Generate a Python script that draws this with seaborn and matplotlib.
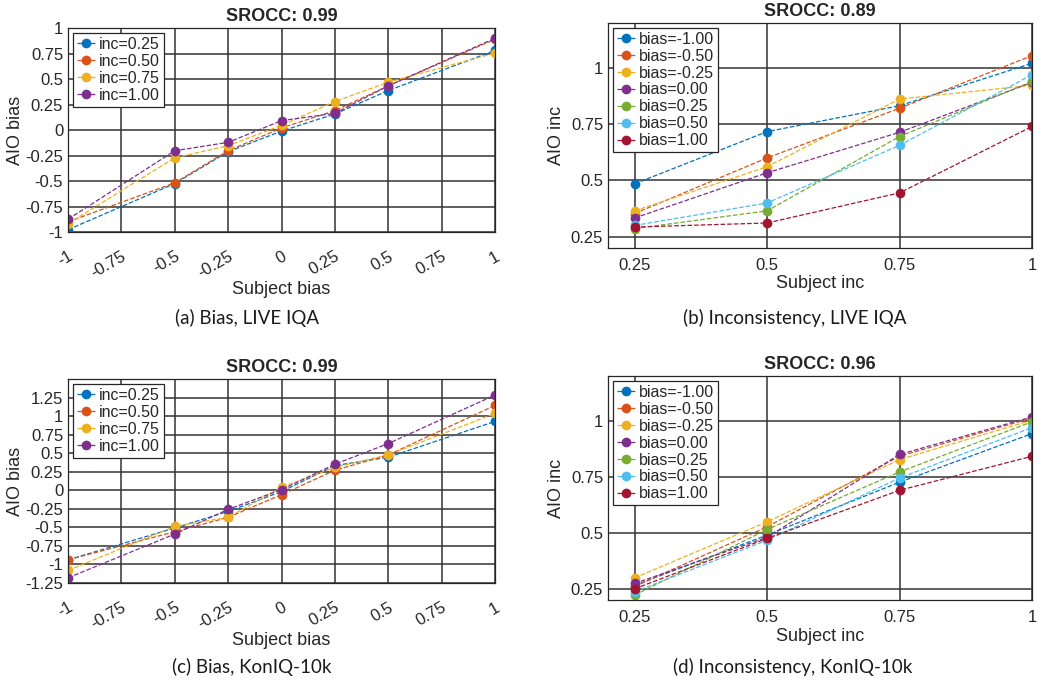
import numpy as np
import pandas as pd
import matplotlib
matplotlib.use("Agg")
import matplotlib.pyplot as plt
import seaborn as sns

sns.set_style("white")
plt.rcParams['font.family'] = ['Liberation Sans', 'DejaVu Sans']

# MATLAB default line colours
colors = ['#0072BD', '#D95319', '#EDB120', '#7E2F8E', '#77AC30', '#4DBEEE', '#A2142F']

# ---- (a) Bias, LIVE IQA ----
bias_x = [-1, -0.5, -0.25, 0, 0.25, 0.5, 1]
inc_labels = ['inc=0.25', 'inc=0.50', 'inc=0.75', 'inc=1.00']
live_bias = [
    [-0.977, -0.525, -0.213, -0.010, 0.157, 0.387, 0.780],
    [-0.900, -0.518, -0.203, 0.020, 0.190, 0.433, 0.890],
    [-0.918, -0.272, -0.154, 0.046, 0.279, 0.469, 0.754],
    [-0.875, -0.203, -0.121, 0.092, 0.164, 0.433, 0.900],
]

# ---- (b) Inconsistency, LIVE IQA ----
inc_x = [0.25, 0.5, 0.75, 1]
bias_labels = ['bias=-1.00', 'bias=-0.50', 'bias=-0.25', 'bias=0.00',
               'bias=0.25', 'bias=0.50', 'bias=1.00']
live_inc = [
    [0.485, 0.717, 0.832, 1.021],
    [0.353, 0.600, 0.821, 1.055],
    [0.365, 0.561, 0.862, 0.923],
    [0.333, 0.534, 0.714, 0.936],
    [0.286, 0.365, 0.695, 0.940],
    [0.300, 0.400, 0.656, 0.970],
    [0.293, 0.311, 0.445, 0.740],
]

# ---- (c) Bias, KonIQ-10k ----
koniq_bias = [
    [-0.937, -0.509, -0.284, -0.018, 0.333, 0.446, 0.928],
    [-0.937, -0.559, -0.365, -0.059, 0.270, 0.477, 1.144],
    [-1.081, -0.486, -0.365, 0.040, 0.310, 0.477, 1.036],
    [-1.180, -0.590, -0.257, 0.009, 0.351, 0.630, 1.284],
]

# ---- (d) Inconsistency, KonIQ-10k ----
koniq_inc = [
    [0.265, 0.490, 0.726, 0.943],
    [0.260, 0.527, 0.842, 1.013],
    [0.299, 0.549, 0.827, 1.003],
    [0.274, 0.480, 0.850, 1.018],
    [0.222, 0.515, 0.772, 0.996],
    [0.237, 0.467, 0.745, 0.970],
    [0.250, 0.475, 0.690, 0.842],
]

bias_ticks = [-1, -0.75, -0.5, -0.25, 0, 0.25, 0.5, 0.75, 1]
bias_tick_labels = ['-1', '-0.75', '-0.5', '-0.25', '0', '0.25', '0.5', '0.75', '1']
koniq_yticks = [-1.25, -1, -0.75, -0.5, -0.25, 0, 0.25, 0.5, 0.75, 1, 1.25]
koniq_ytick_labels = ['-1.25', '-1', '-0.75', '-0.5', '-0.25', '0', '0.25', '0.5', '0.75', '1', '1.25']
inc_ticks = [0.25, 0.5, 0.75, 1]
inc_tick_labels = ['0.25', '0.5', '0.75', '1']

titles = ['SROCC: 0.99', 'SROCC: 0.89', 'SROCC: 0.99', 'SROCC: 0.96']
captions = ['(a) Bias, LIVE IQA', '(b) Inconsistency, LIVE IQA',
            '(c) Bias, KonIQ-10k', '(d) Inconsistency, KonIQ-10k']

fig = plt.figure(figsize=(10.53, 6.85), dpi=100)
ax_a = fig.add_axes([0.0646, 0.6613, 0.4055, 0.2978])
ax_b = fig.add_axes([0.5774, 0.6380, 0.4027, 0.3285])
ax_c = fig.add_axes([0.0646, 0.1489, 0.4055, 0.2978])
ax_d = fig.add_axes([0.5774, 0.1240, 0.4027, 0.3270])

GRID = '#333333'


def draw(ax, xs, series, labels, title):
    for i, (ys, lab) in enumerate(zip(series, labels)):
        df = pd.DataFrame({'x': xs, 'y': ys})
        sns.lineplot(data=df, x='x', y='y', ax=ax, color=colors[i], marker='o',
                     markersize=7, markeredgewidth=0, linestyle='--', linewidth=0.9,
                     label=lab, estimator=None, sort=False)
    ax.set_title(title, fontsize=13, fontweight='bold', pad=5)
    ax.grid(True, color=GRID, linewidth=1.1)
    ax.set_axisbelow(True)
    for sp in ax.spines.values():
        sp.set_color('#262626')
        sp.set_linewidth(0.9)
    ax.tick_params(direction='in', length=3, labelsize=12, colors='#262626')
    leg = ax.legend(loc='upper left', fontsize=11.5, fancybox=False, framealpha=1,
                    edgecolor='#262626', handlelength=1.2, handletextpad=0.2,
                    labelspacing=0.12, borderpad=0.25, borderaxespad=0.3)
    leg.get_frame().set_linewidth(0.9)


draw(ax_a, bias_x, live_bias, inc_labels, titles[0])
draw(ax_b, inc_x, live_inc, bias_labels, titles[1])
draw(ax_c, bias_x, koniq_bias, inc_labels, titles[2])
draw(ax_d, inc_x, koniq_inc, bias_labels, titles[3])

for ax, yt, ytl, ylim in [(ax_a, bias_ticks, bias_tick_labels, (-1, 1)),
                          (ax_c, koniq_yticks, koniq_ytick_labels, (-1.25, 1.5))]:
    ax.set_xlim(-1, 1)
    ax.set_ylim(*ylim)
    ax.set_xticks(bias_ticks)
    ax.set_xticklabels(bias_tick_labels, rotation=30, ha='right', va='top',
                       rotation_mode='anchor')
    ax.set_yticks(yt)
    ax.set_yticklabels(ytl)
    ax.tick_params(axis='x', pad=12)
    ax.set_xlabel('Subject bias', fontsize=13, labelpad=0)
    ax.set_ylabel('AIO bias', fontsize=13, labelpad=1)

for ax in [ax_b, ax_d]:
    ax.set_xlim(0.2, 1)
    ax.set_ylim(0.2, 1.2)
    ax.set_xticks(inc_ticks)
    ax.set_xticklabels(inc_tick_labels)
    ax.set_yticks(inc_ticks)
    ax.set_yticklabels(inc_tick_labels)
    ax.tick_params(axis='x', pad=7)
    ax.set_xlabel('Subject inc', fontsize=13, labelpad=2)
    ax.set_ylabel('AIO inc', fontsize=13, labelpad=4)

cap_pos = [(247, 318), (795, 318), (252, 667), (793, 667)]
for (cx, cy), cap in zip(cap_pos, captions):
    fig.text(cx / 1053, 1 - cy / 685, cap, ha='center', va='center',
             fontsize=13.5, family=['Lato', 'DejaVu Sans'], color='#1a1a1a')

fig.savefig('out.png', dpi=100)
